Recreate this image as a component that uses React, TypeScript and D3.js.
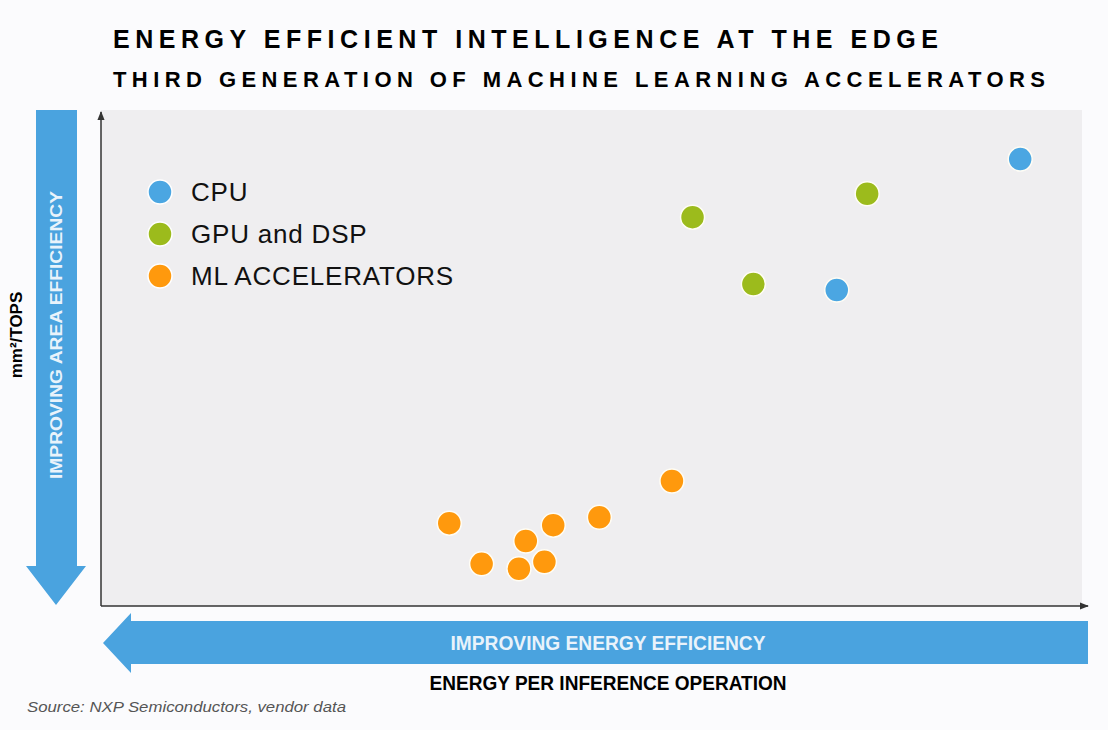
import { useEffect } from 'react';
import * as d3 from 'd3';

// series names and colours
const seriesNames = ['CPU', 'GPU and DSP', 'ML ACCELERATORS'];
const seriesColors = ['#4ba6e2', '#9cbb1c', '#ff990d'];

// values on a 0-100 relative scale (energy per inference, mm2/TOPS)
const cpuX = [93.7, 75.0];
const cpuY = [90.1, 63.7];
const gpuX = [60.3, 78.1, 66.5];
const gpuY = [78.4, 83.1, 64.9];
const mlX = [35.5, 38.8, 43.3, 42.6, 45.2, 46.1, 50.8, 58.2];
const mlY = [16.7, 8.5, 13.1, 7.5, 8.9, 16.3, 17.9, 25.2];

const title1 = 'ENERGY EFFICIENT INTELLIGENCE AT THE EDGE';
const title2 = 'THIRD GENERATION  OF MACHINE  LEARNING ACCELERATORS';

const W = 1108;
const H = 730;
const font = '"Liberation Sans", Arial, sans-serif';

export default function App() {
  useEffect(() => {
    document.body.style.margin = '0';
  }, []);

  const plot = { left: 101, right: 1082, top: 110, bottom: 606 };

  const x = d3.scaleLinear().domain([0, 100]).range([plot.left, plot.right]);
  const y = d3.scaleLinear().domain([0, 100]).range([plot.bottom, plot.top]);

  const series = [
    { xs: cpuX, ys: cpuY },
    { xs: gpuX, ys: gpuY },
    { xs: mlX, ys: mlY },
  ];

  // big blue arrows
  const blue = '#4aa3df';
  const vArrow = d3.path();
  vArrow.moveTo(36, 110);
  vArrow.lineTo(77, 110);
  vArrow.lineTo(77, 566);
  vArrow.lineTo(86, 566);
  vArrow.lineTo(56, 605);
  vArrow.lineTo(26, 566);
  vArrow.lineTo(36, 566);
  vArrow.closePath();

  const hArrow = d3.path();
  hArrow.moveTo(1088, 621);
  hArrow.lineTo(1088, 664);
  hArrow.lineTo(131, 664);
  hArrow.lineTo(131, 673);
  hArrow.lineTo(103, 643);
  hArrow.lineTo(131, 613);
  hArrow.lineTo(131, 621);
  hArrow.closePath();

  return (
    <svg width={W} height={H} style={{ display: 'block', background: '#fbfbfd' }}>
      <defs>
        <marker id="ah" viewBox="0 0 10 10" refX="9" refY="5" markerWidth="6" markerHeight="6" orient="auto">
          <path d="M0,1 L10,5 L0,9 Z" fill="#333" />
        </marker>
      </defs>

      <text x={113} y={48} fontFamily={font} fontWeight="bold" fontSize={25} textLength={825} lengthAdjust="spacing" fill="#000">
        {title1}
      </text>
      <text x={113} y={87} fontFamily={font} fontWeight="bold" fontSize={22} textLength={932} lengthAdjust="spacing" fill="#000">
        {title2}
      </text>

      <rect x={plot.left} y={plot.top} width={plot.right - plot.left} height={plot.bottom - plot.top} fill="#efeef0" />

      {/* axes */}
      <line x1={plot.left} y1={plot.bottom} x2={plot.left} y2={plot.top + 2} stroke="#333" strokeWidth={1.5} markerEnd="url(#ah)" />
      <line x1={plot.left} y1={plot.bottom} x2={1088} y2={plot.bottom} stroke="#333" strokeWidth={1.5} markerEnd="url(#ah)" />

      <path d={vArrow.toString()} fill={blue} />
      <path d={hArrow.toString()} fill={blue} />

      <text transform="translate(62,335) rotate(-90)" textAnchor="middle" fontFamily={font} fontWeight="bold" fontSize={17} textLength={288} lengthAdjust="spacingAndGlyphs" fill="#e9f3fb">
        IMPROVING AREA EFFICIENCY
      </text>
      <text transform="translate(22,335) rotate(-90)" textAnchor="middle" fontFamily={font} fontWeight="bold" fontSize={17} fill="#000">
        mm²/TOPS
      </text>

      <text transform="translate(608,650) scale(0.8,1)" textAnchor="middle" fontFamily={font} fontWeight="bold" fontSize={20} textLength={315 / 0.8} lengthAdjust="spacingAndGlyphs" fill="#e9f3fb">
        IMPROVING ENERGY EFFICIENCY
      </text>
      <text transform="translate(608,690) scale(0.8,1)" textAnchor="middle" fontFamily={font} fontWeight="bold" fontSize={20} textLength={357 / 0.8} lengthAdjust="spacingAndGlyphs" fill="#000">
        ENERGY PER INFERENCE OPERATION
      </text>
      <text x={27} y={712} fontFamily={font} fontStyle="italic" fontSize={15} textLength={319} lengthAdjust="spacingAndGlyphs" fill="#555">
        Source: NXP Semiconductors, vendor data
      </text>

      {/* legend */}
      {seriesNames.map((name, i) => (
        <g key={name} transform={`translate(160,${192 + i * 42})`}>
          <circle r={12} fill={seriesColors[i]} stroke="#fff" strokeWidth={1.5} />
          <text x={31} y={9} fontFamily={font} fontSize={26} letterSpacing={0.8} fill="#111">
            {name}
          </text>
        </g>
      ))}

      {/* points */}
      {series.map((s, si) =>
        s.xs.map((v, j) => (
          <circle
            key={`${si}-${j}`}
            cx={x(v)}
            cy={y(s.ys[j])}
            r={12}
            fill={seriesColors[si]}
            stroke="#fffdf5"
            strokeWidth={1.5}
          />
        ))
      )}
    </svg>
  );
}
